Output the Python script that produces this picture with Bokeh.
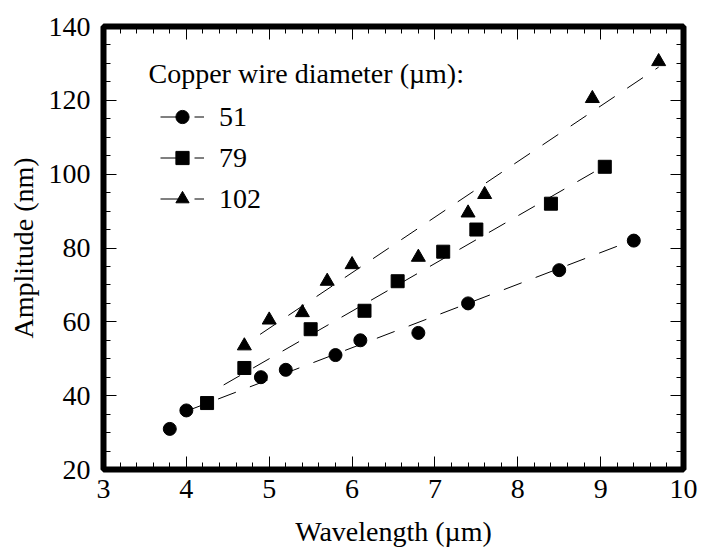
from bokeh.plotting import figure
from bokeh.models import (LinearAxis, Range1d, Legend, LegendItem, Label,
                          FixedTicker, CustomJSTickFormatter)
from bokeh.embed import file_html
from bokeh.resources import INLINE
import numpy as np

# ---------------- data ----------------
wl_51 = [3.8, 4.0, 4.9, 5.2, 5.8, 6.1, 6.8, 7.4, 8.5, 9.4]
amp_51 = [31, 36, 45, 47, 51, 55, 57, 65, 74, 82]

wl_79 = [4.25, 4.7, 5.5, 6.15, 6.55, 7.1, 7.5, 8.4, 9.05]
amp_79 = [38, 47.5, 58, 63, 71, 79, 85, 92, 102]

wl_102 = [4.7, 5.0, 5.4, 5.7, 6.0, 6.8, 7.4, 7.6, 8.9, 9.7]
amp_102 = [53.5, 60.5, 62.5, 71, 75.5, 77.5, 89.5, 94.5, 120.5, 130.5]

fit_51_x = [4.0, 9.4]
fit_51_y = [35.8, 82.2]
fit_79_x = [4.45, 9.03]
fit_79_y = [42.9, 102.0]
fit_102_x = [4.89, 9.7]
fit_102_y = [56.6, 129.0]

series_labels = ["51", "79", "102"]
legend_title = "Copper wire diameter (\u00b5m):"
x_label = "Wavelength (\u00b5m)"
y_label = "Amplitude (nm)"

x_ticks = [3, 4, 5, 6, 7, 8, 9, 10]
y_ticks = [20, 40, 60, 80, 100, 120, 140]
x_minor_step = 0.2
y_minor_step = 5

FONT = "Liberation Serif"
FS = "28px"

# ---------------- figure ----------------
p = figure(width=701, height=550,
           x_range=Range1d(x_ticks[0], x_ticks[-1]),
           y_range=Range1d(y_ticks[0], y_ticks[-1]),
           output_backend="svg", toolbar_location=None,
           min_border_left=103, min_border_top=26,
           min_border_right=18, min_border_bottom=81,
           x_axis_label=x_label, y_axis_label=y_label)

bottom = p.below[0]
left = p.left[0]

p.background_fill_color = "white"
p.border_fill_color = "white"
p.outline_line_color = "black"
p.outline_line_width = 6
p.xgrid.visible = False
p.ygrid.visible = False

x_minor = [float(v) for v in np.round(np.arange(x_ticks[0], x_ticks[-1] + 1e-9, x_minor_step), 3)]
y_minor = [float(v) for v in np.arange(y_ticks[0], y_ticks[-1] + 1e-9, y_minor_step)]
xt = FixedTicker(ticks=x_ticks, minor_ticks=x_minor)
yt = FixedTicker(ticks=y_ticks, minor_ticks=y_minor)

top = LinearAxis(ticker=xt, formatter=CustomJSTickFormatter(code="return ''"))
right = LinearAxis(ticker=yt, formatter=CustomJSTickFormatter(code="return ''"))
p.add_layout(top, "above")
p.add_layout(right, "right")

bottom.ticker = xt
left.ticker = yt

for ax in [bottom, left, top, right]:
    ax.axis_line_color = None
    ax.major_tick_in = 13
    ax.major_tick_out = 0
    ax.minor_tick_in = 7
    ax.minor_tick_out = 0
    ax.major_tick_line_color = "black"
    ax.minor_tick_line_color = "black"
    ax.major_tick_line_width = 1
    ax.minor_tick_line_width = 1
    ax.major_label_text_font = FONT
    ax.major_label_text_font_size = FS
    ax.major_label_text_color = "black"
    ax.axis_label_text_font = FONT
    ax.axis_label_text_font_size = FS
    ax.axis_label_text_font_style = "normal"
    ax.axis_label_text_color = "black"

top.major_label_standoff = 0
right.major_label_standoff = 0
bottom.major_label_standoff = 10
left.major_label_standoff = 13
bottom.axis_label_standoff = 15
left.axis_label_standoff = 7

# ---------------- glyphs ----------------
DASH = "19 15"
l51 = p.line(fit_51_x, fit_51_y, line_color="black", line_width=1, line_dash=DASH)
l79 = p.line(fit_79_x, fit_79_y, line_color="black", line_width=1, line_dash=DASH)
l102 = p.line(fit_102_x, fit_102_y, line_color="black", line_width=1, line_dash=DASH)

s51 = p.scatter(wl_51, amp_51, marker="circle", size=13,
                fill_color="black", line_color="black")
s79 = p.scatter(wl_79, amp_79, marker="square", size=13,
                fill_color="black", line_color="black")
s102 = p.scatter(wl_102, amp_102, marker="triangle", size=14,
                 fill_color="black", line_color="black")

legend = Legend(items=[
    LegendItem(label=series_labels[0], renderers=[l51, s51]),
    LegendItem(label=series_labels[1], renderers=[l79, s79]),
    LegendItem(label=series_labels[2], renderers=[l102, s102]),
], location=(57, 254))
legend.glyph_width = 44
legend.glyph_height = 33
legend.spacing = 8
legend.padding = 0
legend.margin = 0
legend.label_standoff = 15
legend.label_text_font = FONT
legend.label_text_font_size = FS
legend.label_text_color = "black"
legend.border_line_color = None
legend.background_fill_alpha = 0
p.add_layout(legend)

title = Label(x=45, y=395.7, x_units="screen", y_units="screen",
              text=legend_title, text_font=FONT, text_font_size=FS,
              text_color="black", text_baseline="alphabetic", text_align="left")
p.add_layout(title)

open("out.html", "w").write(file_html(p, INLINE))
